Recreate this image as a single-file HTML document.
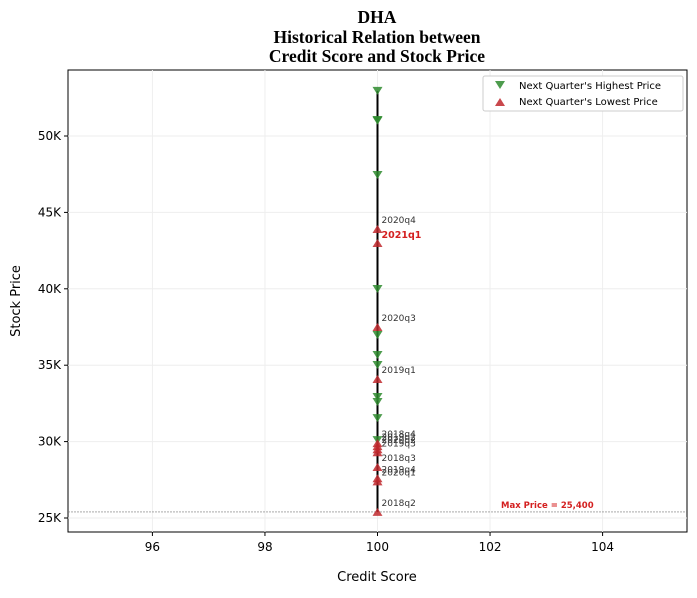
<!DOCTYPE html>
<html><head><meta charset="utf-8"><style>
body{margin:0;background:#fff;font-family:"DejaVu Sans","Liberation Sans",sans-serif}
</style></head><body>
<svg id="c" width="697" height="594" xmlns="http://www.w3.org/2000/svg">
<g font-family="Liberation Serif,serif" font-weight="bold" font-size="17.5" text-anchor="middle">
<text x="377" y="23">DHA</text><text x="377" y="43">Historical Relation between</text><text x="377" y="62">Credit Score and Stock Price</text>
</g>
<rect x="68" y="70" width="619" height="462" fill="none" stroke="#000"/>
<g id="grid"></g><g id="marks"></g><g id="axes"></g>
<g>
<rect x="483" y="76" width="200" height="35" rx="2" fill="#fff" stroke="#ccc"/>
<path d="M495,81 L505,81 L500,89 Z" fill="#2e8b2e" opacity="0.85"/>
<text x="519" y="89" font-size="10">Next Quarter's Highest Price</text>
<path d="M495,106 L505,106 L500,98 Z" fill="#c0282d" opacity="0.85"/>
<text x="519" y="105" font-size="10">Next Quarter's Lowest Price</text>
</g>
<text x="377" y="581" font-size="13" text-anchor="middle">Credit Score</text>
<text transform="translate(20,301) rotate(-90)" font-size="13" text-anchor="middle">Stock Price</text>
</svg>
<script>
const xTicks=[96,98,100,102,104];
const yTicks=[25000,30000,35000,40000,45000,50000];
const yTickLabels=["25K","30K","35K","40K","45K","50K"];
const creditScore=100;
const highs=[52950,51050,51000,47450,39990,36980,35670,35010,32920,32590,31540,30100];
const lowQuarters=["2020q4","2021q1","2020q3","2019q1","2018q4","2019q2","2020q2","2019q3","2018q3","2019q4","2020q1","2018q2"];
const lows=[43910,43000,37500,34100,29900,29700,29500,29300,28340,27600,27400,25400];
const maxPrice=25400;
const NS="http://www.w3.org/2000/svg";
const X=v=>68+(v-94.5)/11*619;
const Y=v=>518-(v-25000)/5000*76.4;
function mk(t,a,p){const e=document.createElementNS(NS,t);for(const k in a)e.setAttribute(k,a[k]);p.appendChild(e);return e;}
const g=document.getElementById('grid'),m=document.getElementById('marks'),ax=document.getElementById('axes');
xTicks.forEach(t=>{mk('line',{x1:X(t),x2:X(t),y1:70,y2:532,stroke:'#eee'},g);
mk('line',{x1:X(t),x2:X(t),y1:532,y2:536,stroke:'#000'},ax);
const e=mk('text',{x:X(t),y:551,'font-size':12,'text-anchor':'middle'},ax);e.textContent=t;

});
yTicks.forEach((t,i)=>{mk('line',{x1:68,x2:687,y1:Y(t),y2:Y(t),stroke:'#eee'},g);
mk('line',{x1:64,x2:68,y1:Y(t),y2:Y(t),stroke:'#000'},ax);
const e=mk('text',{x:61,y:Y(t)+4,'font-size':12,'text-anchor':'end'},ax);e.textContent=yTickLabels[i];

});
const mp=mk('line',{x1:68,x2:687,y1:Y(maxPrice),y2:Y(maxPrice),stroke:'#777','stroke-width':0.6,'stroke-dasharray':'2,1'},m);


const mt=mk('text',{x:501,y:Y(maxPrice)-4,'font-size':8.5,'font-weight':'bold',fill:'#d42020'},m);mt.textContent='Max Price = 25,400';


const all=highs.concat(lows);
const cx=X(creditScore);
const vl=mk('line',{x1:cx,x2:cx,y1:Y(Math.max(...all)),y2:Y(Math.min(...all)),stroke:'#000','stroke-width':2},m);


highs.forEach(v=>{const y=Y(v);const p=mk('path',{d:`M${cx-5},${y-4} L${cx+5},${y-4} L${cx},${y+4} Z`,fill:'#2e8b2e',opacity:0.85},m);

});
lows.forEach((v,i)=>{const y=Y(v);const p=mk('path',{d:`M${cx-5},${y+4} L${cx+5},${y+4} L${cx},${y-4} Z`,fill:'#c0282d',opacity:0.85},m);


const last=lowQuarters[i]==='2021q1';
const t=mk('text',{x:cx+4,y:last?y-5:y-6,'font-size':last?9.5:9,fill:last?'#d42020':'#333','font-weight':last?'bold':'normal'},m);t.textContent=lowQuarters[i];

});
</script>
</body></html>
